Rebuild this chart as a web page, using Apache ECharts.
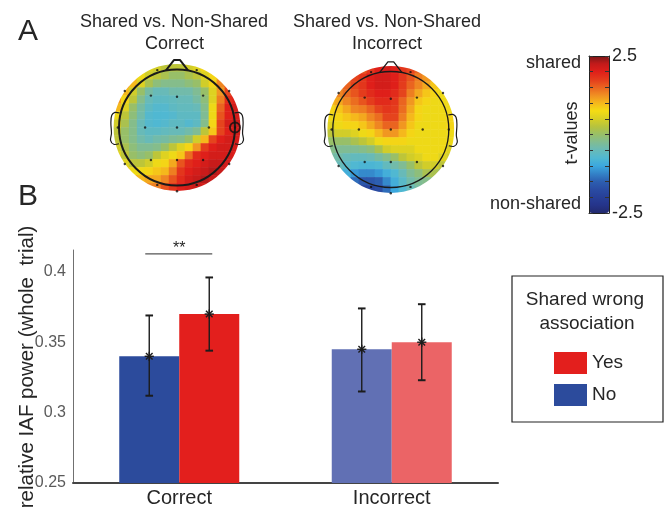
<!DOCTYPE html>
<html>
<head>
<meta charset="utf-8">
<script src="https://cdn.jsdelivr.net/npm/echarts@6/dist/echarts.min.js"></script>
<style>
  html, body { margin: 0; padding: 0; background: #fff; }
  #chart { width: 668px; height: 509px; }
</style>
</head>
<body>
<div id="chart"></div>
<script>
// ---------- Panel B: relative IAF power (whole trial) ----------
const conditions = ['Correct', 'Incorrect'];
const noMean  = [0.340, 0.345];
const noLow   = [0.312, 0.315];
const noHigh  = [0.369, 0.374];
const yesMean = [0.370, 0.350];
const yesLow  = [0.344, 0.323];
const yesHigh = [0.396, 0.377];
const sigLevel = 0.4127;          // height of the "**" bracket over Correct

const noColors  = ['#2c4b9c', '#6170b4'];
const yesColors = ['#e31f1d', '#eb6466'];

// ---------- Panel A: t-value maps, 16 x 16 cells, front row first ----------
const n = null;
const mapCorrect = [
  [n, n, n, n, 0.55, 0.45, 0.3, 0.3, 0.3, 0.45, 0.55, 0.8, n, n, n, n],
  [n, n, 0.9, 0.7, 0.45, 0.3, 0.15, 0.0, 0.0, 0.15, 0.3, 0.55, 0.8, 1.0, n, n],
  [n, 1.3, 1.0, 0.55, 0.15, -0.1, -0.2, -0.2, -0.2, -0.1, 0.0, 0.45, 0.8, 1.3, 1.6, n],
  [n, 1.0, 0.45, 0.0, -0.35, -0.5, -0.5, -0.4, -0.4, -0.4, -0.25, 0.0, 0.55, 1.2, 1.7, n],
  [1.2, 0.8, 0.3, -0.2, -0.5, -0.6, -0.6, -0.55, -0.5, -0.5, -0.35, -0.1, 0.55, 1.35, 1.9, 2.0],
  [1.0, 0.55, 0.0, -0.35, -0.6, -0.7, -0.7, -0.6, -0.55, -0.55, -0.5, -0.2, 0.7, 1.5, 2.0, 2.1],
  [0.7, 0.3, -0.1, -0.4, -0.7, -0.75, -0.75, -0.7, -0.6, -0.6, -0.6, -0.25, 0.7, 1.6, 2.0, 2.1],
  [0.45, 0.15, -0.2, -0.5, -0.7, -0.75, -0.7, -0.6, -0.6, -0.7, -0.6, -0.2, 0.8, 1.7, 2.1, 2.2],
  [0.3, 0.0, -0.2, -0.5, -0.6, -0.6, -0.55, -0.5, -0.5, -0.4, -0.25, 0.3, 0.9, 1.7, 2.0, 2.1],
  [0.3, 0.0, -0.2, -0.4, -0.5, -0.4, -0.35, -0.25, -0.2, 0.0, 0.45, 1.0, 1.7, 2.0, 2.1, 2.1],
  [0.45, 0.15, -0.1, -0.25, -0.25, -0.2, 0.0, 0.3, 0.55, 0.8, 1.2, 1.75, 2.0, 2.1, 2.1, 2.1],
  [0.55, 0.3, 0.0, -0.1, 0.0, 0.3, 0.55, 0.7, 0.9, 1.45, 1.9, 2.0, 2.1, 2.1, 2.1, 2.0],
  [n, 0.55, 0.3, 0.3, 0.45, 0.7, 0.8, 1.1, 1.6, 1.9, 2.0, 2.1, 2.2, 2.2, 2.1, n],
  [n, 0.9, 0.7, 0.7, 0.8, 0.9, 1.0, 1.35, 1.8, 2.0, 2.1, 2.2, 2.3, 2.2, 2.0, n],
  [n, n, 1.1, 1.0, 1.1, 1.1, 1.3, 1.6, 1.9, 2.1, 2.2, 2.3, 2.2, 2.1, n, n],
  [n, n, n, n, 1.3, 1.35, 1.6, 1.8, 2.0, 2.1, 2.2, 2.1, n, n, n, n]
];
const mapIncorrect = [
  [n, n, n, n, 1.6, 1.8, 2.0, 2.1, 2.0, 1.8, 1.7, 1.5, n, n, n, n],
  [n, n, 1.45, 1.7, 1.8, 2.0, 2.1, 2.1, 2.0, 1.8, 1.6, 1.35, 1.2, 1.1, n, n],
  [n, 1.35, 1.5, 1.7, 1.8, 2.0, 2.1, 2.1, 2.0, 1.75, 1.5, 1.3, 1.1, 0.9, 0.8, n],
  [n, 1.3, 1.45, 1.6, 1.75, 1.9, 2.0, 2.0, 1.9, 1.7, 1.35, 1.1, 0.9, 0.8, 0.7, n],
  [1.0, 1.1, 1.3, 1.45, 1.6, 1.75, 1.9, 1.9, 1.8, 1.5, 1.2, 0.9, 0.8, 0.7, 0.7, 0.7],
  [0.8, 0.9, 1.1, 1.3, 1.35, 1.5, 1.7, 1.8, 1.75, 1.45, 1.1, 0.8, 0.7, 0.7, 0.7, 0.7],
  [0.7, 0.8, 0.9, 1.0, 1.1, 1.3, 1.45, 1.7, 1.7, 1.35, 1.0, 0.8, 0.7, 0.7, 0.7, 0.8],
  [0.55, 0.7, 0.8, 0.8, 0.9, 1.1, 1.3, 1.5, 1.5, 1.2, 0.9, 0.7, 0.7, 0.7, 0.7, 0.8],
  [0.3, 0.45, 0.45, 0.55, 0.7, 0.8, 1.0, 1.2, 1.2, 1.0, 0.8, 0.7, 0.7, 0.7, 0.7, 0.7],
  [0.0, 0.0, 0.0, 0.15, 0.3, 0.45, 0.7, 0.8, 0.8, 0.8, 0.7, 0.7, 0.7, 0.7, 0.7, 0.7],
  [-0.2, -0.25, -0.25, -0.25, -0.2, -0.1, 0.15, 0.45, 0.55, 0.55, 0.55, 0.7, 0.7, 0.7, 0.7, 0.55],
  [-0.35, -0.4, -0.5, -0.55, -0.55, -0.5, -0.35, -0.2, 0.0, 0.3, 0.45, 0.55, 0.7, 0.7, 0.55, 0.45],
  [n, -0.5, -0.65, -0.75, -0.8, -0.8, -0.75, -0.55, -0.4, -0.25, 0.0, 0.3, 0.45, 0.45, 0.3, n],
  [n, -0.65, -0.9, -1.1, -1.2, -1.2, -1.1, -0.9, -0.75, -0.5, -0.25, -0.1, 0.15, 0.15, 0.0, n],
  [n, n, -1.1, -1.4, -1.6, -1.6, -1.5, -1.2, -0.9, -0.65, -0.4, -0.25, -0.2, -0.1, n, n],
  [n, n, n, n, -1.9, -1.9, -1.75, -1.4, -1.0, -0.75, -0.5, -0.35, n, n, n, n]
];

// electrode positions in head units (head radius = 1, nose up)
const elecX = [-0.34, 0.34, -0.9, -0.45, 0, 0.45, 0.9, -1.02, -0.55, 0, 0.55, 1.0, -0.9, -0.45, 0, 0.45, 0.9, -0.34, 0.34, 0];
const elecY = [0.99, 0.99, 0.63, 0.55, 0.53, 0.55, 0.63, 0, 0, 0, 0, 0, -0.63, -0.56, -0.56, -0.56, -0.63, -0.99, -0.99, -1.1];
const markedX = [1.0];
const markedY = [0];

// t-value colour scale in steps of 0.25, from -2.5 up to 2.5
const tColors = [
  '#222a6e', '#25348a', '#273f98', '#2a4ca3', '#2d5fb0', '#3382c8', '#3ca8de', '#50b8d2',
  '#68bab8', '#80bc94', '#98bf68', '#b6c33e', '#d8cf24', '#f4dc14', '#f5b81c', '#f08f22',
  '#ea6420', '#e43c1c', '#df1f1a', '#c21a1a', '#7a1818'
];
const tMin = -2.5, tMax = 2.5;

const FONT = 'Liberation Sans, Arial, Helvetica, sans-serif';
const TXT = '#262626';

// ---------- layout ----------
const CELLS = 16;
const HEAD_PX = 58;                 // pixels per head unit
const MAP_SIZE = 2.2 * HEAD_PX;      // map spans [-1.1, 1.1]
const maps = [
  { data: mapCorrect,   cx: 177,   cy: 127.5, outline: 2.0, marked: true },
  { data: mapIncorrect, cx: 390.8, cy: 129.5, outline: 1.3, marked: false }
];
const BAR_W = 60;

const idx = Array.from({ length: CELLS }, (_, i) => String(i));
const grids = [], xAxes = [], yAxes = [], series = [];
const heatSeriesIdx = [];

maps.forEach((m) => {
  const left = m.cx - MAP_SIZE / 2, top = m.cy - MAP_SIZE / 2;
  const gHeat = grids.length;
  grids.push({ left, top, width: MAP_SIZE, height: MAP_SIZE });
  xAxes.push({ gridIndex: gHeat, type: 'category', data: idx, show: false });
  yAxes.push({ gridIndex: gHeat, type: 'category', data: idx, inverse: true, show: false });
  const gOver = grids.length;
  grids.push({ left, top, width: MAP_SIZE, height: MAP_SIZE });
  xAxes.push({ gridIndex: gOver, type: 'value', min: -1.1, max: 1.1, show: false });
  yAxes.push({ gridIndex: gOver, type: 'value', min: -1.1, max: 1.1, show: false });

  const cells = [];
  m.data.forEach((row, j) => row.forEach((v, i) => { if (v !== null) cells.push([i, j, v]); }));
  heatSeriesIdx.push(series.length);
  series.push({
    type: 'heatmap', xAxisIndex: gHeat, yAxisIndex: gHeat, data: cells,
    silent: true, z: 1, itemStyle: { borderWidth: 0 }, progressive: 0
  });

  // white ring trimming the square cells to the round scalp
  series.push({
    type: 'custom', xAxisIndex: gOver, yAxisIndex: gOver, data: [[0, 0]], silent: true, z: 3, clip: false,
    renderItem: (params, api) => {
      const c = api.coord([0, 0]);
      const u = api.size([1, 0])[0];
      const w = 16;
      return { type: 'circle', shape: { cx: c[0], cy: c[1], r: 1.093 * u + w / 2 },
               style: { fill: 'none', stroke: '#ffffff', lineWidth: w } };
    }
  });

  // head outline, nose and ears
  series.push({
    type: 'custom', xAxisIndex: gOver, yAxisIndex: gOver, data: [[0, 0]], silent: true, z: 4, clip: false,
    renderItem: (params, api) => {
      const p = (x, y) => api.coord([x, y]);
      const c = p(0, 0);
      const u = api.size([1, 0])[0];
      const st = { fill: 'none', stroke: '#1a1a1a', lineWidth: m.outline, lineJoin: 'round' };
      const nose = [[-0.19, 0.985], [-0.05, 1.165], [0.05, 1.165], [0.19, 0.985]].map(q => p(q[0], q[1]));
      const ear = [[0.99, 0.25], [1.07, 0.26], [1.125, 0.21], [1.14, 0.08], [1.13, -0.1], [1.145, -0.22], [1.09, -0.29], [1.0, -0.28]];
      const earL = ear.map(q => p(-q[0], q[1]));
      const earR = ear.map(q => p(q[0], q[1]));
      return { type: 'group', children: [
        { type: 'circle', shape: { cx: c[0], cy: c[1], r: u }, style: st },
        { type: 'polyline', shape: { points: nose }, style: st },
        { type: 'polyline', shape: { points: earL, smooth: 0.35 }, style: Object.assign({}, st, { lineWidth: 1.2 }) },
        { type: 'polyline', shape: { points: earR, smooth: 0.35 }, style: Object.assign({}, st, { lineWidth: 1.2 }) }
      ] };
    }
  });

  series.push({
    type: 'scatter', xAxisIndex: gOver, yAxisIndex: gOver, silent: true, z: 5,
    data: elecX.map((x, i) => [x, elecY[i]]),
    symbol: 'circle', symbolSize: 2.4, itemStyle: { color: '#111' }
  });

  if (m.marked) {
    series.push({
      type: 'scatter', xAxisIndex: gOver, yAxisIndex: gOver, silent: true, z: 6,
      data: markedX.map((x, i) => [x, markedY[i]]),
      symbol: 'circle', symbolSize: 10,
      itemStyle: { color: 'rgba(0,0,0,0)', borderColor: '#111', borderWidth: 2 }
    });
  }
});

// ---------- bar chart grid ----------
const gBar = grids.length;
grids.push({ left: 73, top: 250, width: 425, height: 233 });
xAxes.push({
  gridIndex: gBar, type: 'category', data: conditions,
  axisLine: { lineStyle: { color: '#444', width: 2 } },
  axisTick: { show: false },
  axisLabel: { color: TXT, fontSize: 20, fontFamily: FONT, margin: 5 },
  splitLine: { show: false }
});
yAxes.push({
  gridIndex: gBar, type: 'value', min: 0.25, max: 0.4155, interval: 0.05,
  axisLine: { show: true, lineStyle: { color: '#707070', width: 1 } },
  axisTick: { show: false },
  axisLabel: { color: '#5a5a5a', fontSize: 16, fontFamily: FONT, margin: 7, showMaxLabel: false },
  splitLine: { show: false }
});

series.push({
  name: 'No', type: 'bar', xAxisIndex: gBar, yAxisIndex: gBar,
  barWidth: BAR_W, barGap: '0%', z: 2, silent: true,
  itemStyle: { color: noColors[0] },
  data: noMean.map((v, i) => ({ value: v, itemStyle: { color: noColors[i] } }))
});
series.push({
  name: 'Yes', type: 'bar', xAxisIndex: gBar, yAxisIndex: gBar,
  barWidth: BAR_W, barGap: '0%', z: 2, silent: true,
  itemStyle: { color: yesColors[0] },
  data: yesMean.map((v, i) => ({ value: v, itemStyle: { color: yesColors[i] } }))
});

// error bars with an asterisk at each mean
const errData = [];
conditions.forEach((c, i) => {
  errData.push([i, noMean[i], noLow[i], noHigh[i], 0]);
  errData.push([i, yesMean[i], yesLow[i], yesHigh[i], 1]);
});
series.push({
  type: 'custom', xAxisIndex: gBar, yAxisIndex: gBar, data: errData, silent: true, z: 4,
  encode: { x: 0, y: [1, 2, 3] },
  renderItem: (params, api) => {
    const ci = api.value(0), g = api.value(4);
    const base = api.coord([ci, api.value(1)]);
    const x = base[0] + (g === 0 ? -1 : 1) * BAR_W / 2;
    const y = base[1];
    const yLo = api.coord([ci, api.value(2)])[1];
    const yHi = api.coord([ci, api.value(3)])[1];
    const st = { stroke: '#1c1c1c', lineWidth: 1.4 };
    const cap = 3.8, s = 4.6, d = s * 0.72;
    return { type: 'group', children: [
      { type: 'line', shape: { x1: x, y1: yLo, x2: x, y2: yHi }, style: st },
      { type: 'line', shape: { x1: x - cap, y1: yLo, x2: x + cap, y2: yLo }, style: { stroke: '#1c1c1c', lineWidth: 2 } },
      { type: 'line', shape: { x1: x - cap, y1: yHi, x2: x + cap, y2: yHi }, style: { stroke: '#1c1c1c', lineWidth: 2 } },
      { type: 'line', shape: { x1: x - s, y1: y, x2: x + s, y2: y }, style: st },
      { type: 'line', shape: { x1: x, y1: y - s, x2: x, y2: y + s }, style: st },
      { type: 'line', shape: { x1: x - d, y1: y - d, x2: x + d, y2: y + d }, style: st },
      { type: 'line', shape: { x1: x - d, y1: y + d, x2: x + d, y2: y - d }, style: st }
    ] };
  }
});

// significance bracket between the two Correct bars
series.push({
  type: 'custom', xAxisIndex: gBar, yAxisIndex: gBar, data: [[0, sigLevel]], silent: true, z: 4, clip: false,
  renderItem: (params, api) => {
    const p = api.coord([api.value(0), api.value(1)]);
    return { type: 'group', children: [
      { type: 'line', shape: { x1: p[0] - BAR_W / 2 - 4, y1: p[1], x2: p[0] + BAR_W / 2 + 3, y2: p[1] },
        style: { stroke: '#555', lineWidth: 1.2 } },
      { type: 'text', x: p[0], y: p[1] + 3,
        style: { text: '**', fill: TXT, fontSize: 16, fontFamily: FONT, align: 'center', verticalAlign: 'bottom' } }
    ] };
  }
});

// ---------- colour bar frame and ticks ----------
const gCb = grids.length;
const CB = { left: 589, top: 56, width: 20, height: 157 };
grids.push(CB);
const frameLine = { show: true, onZero: false, lineStyle: { color: '#222', width: 1 } };
const cbTick = { show: true, inside: true, length: 4, lineStyle: { color: '#333' } };
xAxes.push({ gridIndex: gCb, type: 'value', min: 0, max: 1, position: 'bottom', z: 10,
  axisLine: frameLine, axisTick: { show: false }, axisLabel: { show: false }, splitLine: { show: false } });
xAxes.push({ gridIndex: gCb, type: 'value', min: 0, max: 1, position: 'top', z: 10,
  axisLine: frameLine, axisTick: { show: false }, axisLabel: { show: false }, splitLine: { show: false } });
yAxes.push({ gridIndex: gCb, type: 'value', min: tMin, max: tMax, interval: 0.5, position: 'left', z: 10,
  axisLine: frameLine, axisTick: cbTick, axisLabel: { show: false }, splitLine: { show: false } });
yAxes.push({ gridIndex: gCb, type: 'value', min: tMin, max: tMax, interval: 0.5, position: 'right', z: 10,
  axisLine: frameLine, axisTick: cbTick,
  axisLabel: { show: true, color: TXT, fontSize: 18, fontFamily: FONT, margin: 3,
    formatter: v => (Math.abs(Math.abs(v) - 2.5) < 1e-9 ? String(v) : '') },
  splitLine: { show: false } });

// ---------- text and legend frame ----------
const txt = (text, x, y, size, opts) => Object.assign({
  type: 'text', x, y, z: 20, silent: true,
  style: Object.assign({ text, fill: TXT, fontSize: size, fontFamily: FONT, align: 'center', verticalAlign: 'middle' },
    (opts && opts.style) || {})
}, opts && opts.rotation ? { rotation: opts.rotation } : {});

const graphic = [
  txt('A', 28, 32, 30),
  txt('B', 28, 197, 30),
  txt('Shared vs. Non-Shared', 174, 22, 18),
  txt('Correct', 174.5, 44, 18),
  txt('Shared vs. Non-Shared', 387, 22, 18),
  txt('Incorrect', 387, 44, 18),
  txt('shared', 581, 63, 18, { style: { align: 'right' } }),
  txt('non-shared', 581, 204, 18, { style: { align: 'right' } }),
  txt('t-values', 572, 133, 18, { rotation: Math.PI / 2 }),
  txt('relative IAF power (whole  trial)', 27, 367, 20.5, { rotation: Math.PI / 2 }),
  { type: 'rect', z: 20, silent: true, shape: { x: 512, y: 276, width: 151, height: 146 },
    style: { fill: 'none', stroke: '#222', lineWidth: 1.2 } },
  txt('Shared wrong', 585, 300, 19),
  txt('association', 587, 324, 19)
];

const chart = echarts.init(document.getElementById('chart'), null, { renderer: 'canvas' });
chart.setOption({
  animation: false,
  backgroundColor: '#fff',
  grid: grids,
  xAxis: xAxes,
  yAxis: yAxes,
  visualMap: {
    type: 'continuous', min: tMin, max: tMax, seriesIndex: heatSeriesIdx, dimension: 2,
    calculable: false, hoverLink: false, realtime: false,
    orient: 'vertical', left: CB.left, top: CB.top, itemWidth: CB.width, itemHeight: CB.height,
    padding: 0, text: null, z: 4,
    inRange: { color: tColors }
  },
  legend: {
    data: ['Yes', 'No'], orient: 'vertical', left: 554, top: 352, padding: 0,
    itemWidth: 33, itemHeight: 22, itemGap: 10, icon: 'rect', selectedMode: false,
    textStyle: { color: TXT, fontSize: 19, fontFamily: FONT }
  },
  series,
  graphic
});
</script>
</body>
</html>
